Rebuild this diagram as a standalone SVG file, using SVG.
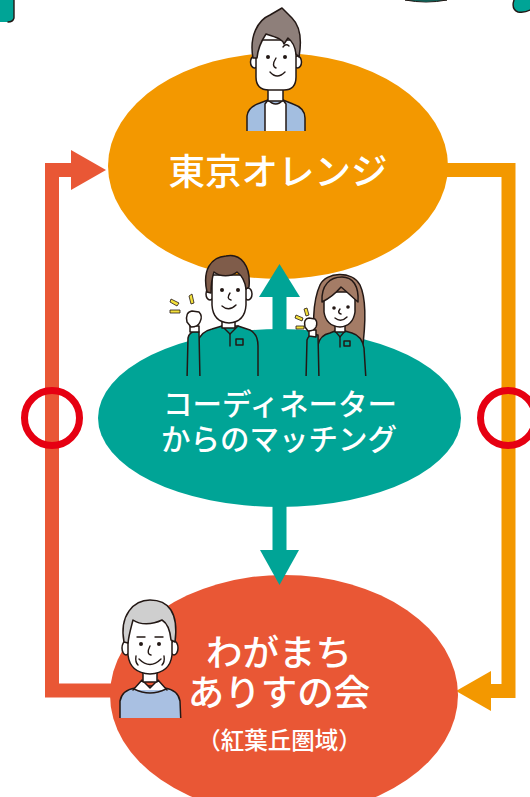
<svg xmlns="http://www.w3.org/2000/svg" width="530" height="797" viewBox="0 0 530 797">
  <defs>
    <style>
      .label { font-family: "Noto Sans CJK JP", "Noto Sans", sans-serif; font-weight: 500; fill: #ffffff; text-anchor: middle; }
      .ink { stroke: #231815; stroke-width: 1.5; stroke-linejoin: round; stroke-linecap: round; }
      .skin { fill: #ffffff; }
      .uniform { fill: #00A496; }
      .spark { fill: #F3E03B; stroke: #231815; stroke-width: 0.8; }
      .line { fill: none; stroke: #231815; stroke-width: 1.4; stroke-linecap: round; }
    </style>
    <clipPath id="clip-top-person"><rect x="230" y="0" width="90" height="131"/></clipPath>
    <clipPath id="clip-mid-people"><rect x="150" y="240" width="240" height="136"/></clipPath>
    <clipPath id="clip-elder"><rect x="100" y="590" width="100" height="128"/></clipPath>
  </defs>

  <rect width="530" height="797" fill="#ffffff"/>

  <!-- partial shapes along the top edge -->
  <g id="edge-fragments">
    <path d="M0 0 H14 V18 Q13 22 8 22 H0 Z" fill="#00A496"/>
    <path d="M14 0 V18 Q13 22 8 22" class="line"/>
    <path d="M405 0 Q426 4 447 0 Z" fill="#00A496" stroke="#231815" stroke-width="1"/>
    <path d="M514 0 Q511 9 518 12 Q525 13 530 10 V0 Z" fill="#00A496"/>
    <path d="M514 0 Q511 9 518 12 Q525 13 530 10" class="line"/>
  </g>

  <!-- connectors -->
  <g id="connectors">
    <!-- feedback loop: わがまち → 東京オレンジ -->
    <path d="M118 690.5 H52 V170 H75" fill="none" stroke="#E95735" stroke-width="14" stroke-linejoin="miter"/>
    <polygon points="71,150 106,170 71,190" fill="#E95735"/>
    <!-- 東京オレンジ → わがまち -->
    <path d="M440 170 H508.5 V691 H488" fill="none" stroke="#F39800" stroke-width="14" stroke-linejoin="miter"/>
    <polygon points="491,671 456,691 491,711" fill="#F39800"/>
  </g>

  <!-- nodes -->
  <g id="node-tokyo-orange">
    <ellipse cx="278" cy="166" rx="170" ry="113" fill="#F39800"/>
  </g>
  <g id="node-coordinator">
    <ellipse cx="279.5" cy="418" rx="181.5" ry="89" fill="#00A496"/>
  </g>
  <g id="node-wagamachi">
    <ellipse cx="284" cy="695" rx="174" ry="120" fill="#E95735"/>
  </g>

  <!-- teal arrows from the coordinator -->
  <g id="coordinator-arrows" fill="#00A496">
    <rect x="272.5" y="296" width="14" height="44"/>
    <polygon points="259,297 279.5,264 300,297"/>
    <rect x="272.5" y="500" width="14" height="52"/>
    <polygon points="260,550 279.5,585 299,550"/>
  </g>

  <!-- circles on the loop -->
  <g id="loop-marks" fill="none" stroke="#E60012" stroke-width="7">
    <circle cx="52" cy="418" r="27.5"/>
    <circle cx="508" cy="418" r="27.5"/>
  </g>

  <!-- person above 東京オレンジ -->
  <g id="person-top" clip-path="url(#clip-top-person)">
    <path d="M247 140 V116 Q248 107 260 103 L268 100 H283 L293 104 Q305 108 305 118 V140 Z" fill="#A3BEE0" class="ink"/>
    <path d="M265 140 V104 L268 100 Q276 108 283 100 L286 104 V140 Z" class="skin ink"/>
    <rect x="268" y="86" width="15" height="15" class="skin ink"/>
    <ellipse cx="254.5" cy="62" rx="4" ry="6" class="skin ink"/>
    <ellipse cx="297.5" cy="62" rx="4" ry="6" class="skin ink"/>
    <path d="M256 40 V77 Q256 90 269 90 H284 Q296 90 296 77 V40 Z" class="skin ink"/>
    <path d="M253 58 C249 36 258 20 270 15 L282 8 L292 18 C300 26 302 40 299 57 L296 54 C295 46 292 41 288 38 C284 44 284 44 284 44 C282 38 274 37 266 34 C262 40 258 47 257 58 Z" fill="#8E7F7A" class="ink"/>
    <circle cx="268" cy="57" r="2" fill="#231815"/>
    <circle cx="285" cy="57" r="2" fill="#231815"/>
    <path d="M276 58 Q271 66 276 68" class="line"/>
    <path d="M270 72 Q277 80 285 72" class="line"/>
    <path d="M283 47 Q286 43 289 46" class="line"/>
  </g>

  <!-- two coordinators -->
  <g id="coordinators" clip-path="url(#clip-mid-people)">
    <!-- man -->
    <path d="M198 380 V342 Q200 332 212 329 L222 326 H238 L250 330 Q258 334 258 346 V380 Z" class="uniform ink"/>
    <path d="M187 380 L188 338 Q190 330 199 332 L200 380 Z" class="uniform ink"/>
    <path d="M190 332 L190 326 L199 326 L199 332 Z" class="skin ink"/>
    <path d="M187 322 Q185 312 192 311 L199 312 Q203 316 200 322 Q198 327 191 327 Z" class="skin ink"/>
    <path d="M222 326 L230 334 L238 326" class="line"/>
    <path d="M230 334 V346" class="line"/>
    <rect x="236" y="339" width="7" height="6" fill="none" class="ink"/>
    <rect x="222" y="318" width="13" height="10" class="skin ink"/>
    <ellipse cx="210" cy="294" rx="4" ry="6" class="skin ink"/>
    <ellipse cx="248" cy="294" rx="4" ry="6" class="skin ink"/>
    <path d="M212 275 V305 Q213 322 229 323 Q245 322 246 305 V275 Z" class="skin ink"/>
    <path d="M207 292 C202 270 211 257 226 256 C241 253 251 266 249 287 L246 289 C245 281 241 275 237 272 C231 277 220 277 214 272 C212 278 211 285 211 293 Z" fill="#7F5C4A" class="ink"/>
    <circle cx="222" cy="290" r="2" fill="#231815"/>
    <circle cx="238" cy="290" r="2" fill="#231815"/>
    <path d="M230 293 Q226 299 231 300" class="line"/>
    <path d="M222 306 Q229 312 236 305" class="line"/>
    <path class="spark" d="M171 299 L179 303 L177 306 L170 302 Z"/>
    <path class="spark" d="M170 310 L180 310 L180 313 L170 313 Z"/>
    <path class="spark" d="M189 296 L192 294 L194 303 L191 304 Z"/>
    <!-- woman -->
    <path d="M318 352 C311 330 313 300 320 285 C326 272 352 270 360 285 C367 300 365 330 362 352 Z" fill="#A47C66" class="ink"/>
    <path d="M318 380 V345 Q320 335 330 333 L335 331 H345 L352 333 Q362 336 364 348 L366 380 Z" class="uniform ink"/>
    <path d="M306 380 L307 340 Q309 333 318 335 L319 380 Z" class="uniform ink"/>
    <path d="M309 336 V330 L316 330 V337 Z" class="skin ink"/>
    <path d="M305 327 Q303 319 309 318 L315 319 Q318 322 316 327 Q314 331 308 331 Z" class="skin ink"/>
    <path d="M335 331 L340 337 L345 331" class="line"/>
    <path d="M340 337 V347" class="line"/>
    <rect x="344" y="341" width="6" height="5" fill="none" class="ink"/>
    <rect x="335" y="323" width="10" height="9" class="skin ink"/>
    <path d="M324 292 V312 Q326 326 340 327 Q353 326 355 312 V292 Z" class="skin ink"/>
    <path d="M322 302 C321 285 330 277 342 277 C353 277 359 286 358 302 C351 296 346 291 341 287 C336 293 330 298 322 302 Z" fill="#A47C66" class="ink"/>
    <circle cx="334" cy="308" r="1.8" fill="#231815"/>
    <circle cx="348" cy="307" r="1.8" fill="#231815"/>
    <path d="M340 309 Q337 313 341 314" class="line"/>
    <path d="M335 318 Q341 323 347 317" class="line"/>
    <path class="spark" d="M296 315 L303 318 L302 321 L295 318 Z"/>
    <path class="spark" d="M296 326 L304 326 L304 329 L296 329 Z"/>
    <path class="spark" d="M304 309 L307 308 L309 315 L306 316 Z"/>
  </g>

  <!-- elder beside わがまち -->
  <g id="person-elder" clip-path="url(#clip-elder)">
    <path d="M120 725 V701 Q122 690 135 688 L142 686 H158 L165 688 Q178 690 180 701 L181 725 Z" fill="#A9C0E2" class="ink"/>
    <path d="M133 690 L142 680 L150 688 L158 680 L167 690" class="skin ink"/>
    <path d="M134 689 Q150 697 166 689" class="line"/>
    <rect x="143" y="668" width="14" height="14" class="skin ink"/>
    <ellipse cx="126" cy="648" rx="4" ry="7" class="skin ink"/>
    <ellipse cx="174" cy="648" rx="4" ry="7" class="skin ink"/>
    <path d="M128 620 V655 Q130 673 150 674 Q170 673 172 655 V620 Z" class="skin ink"/>
    <path d="M124 642 C119 615 134 600 150 600 C168 600 179 612 175 642 L171 640 C170 629 167 623 162 620 C152 625 140 625 133 620 C131 628 129 634 128 643 Z" fill="#CFCFCF" class="ink"/>
    <path d="M137 637 H145" class="line"/>
    <path d="M155 637 H163" class="line"/>
    <circle cx="141" cy="644" r="2" fill="#231815"/>
    <circle cx="159" cy="644" r="2" fill="#231815"/>
    <path d="M150 646 Q146 654 151 655" class="line"/>
    <path d="M139 659 Q150 670 161 659" class="line"/>
    <path d="M136 656 Q135 662 138 665" class="line"/>
    <path d="M164 656 Q165 662 162 665" class="line"/>
  </g>

  <!-- labels -->
  <g id="labels">
    <text class="label" x="278" y="185" font-size="36.5">東京オレンジ</text>
    <text class="label" x="280" y="415" font-size="29.5">コーディネーター</text>
    <text class="label" x="279" y="450" font-size="29.5">からのマッチング</text>
    <text class="label" x="279" y="666" font-size="36.5">わがまち</text>
    <text class="label" x="279" y="706" font-size="36.5">ありすの会</text>
    <text class="label" x="279.5" y="749" font-size="23.5">（紅葉丘圏域）</text>
  </g>
</svg>
